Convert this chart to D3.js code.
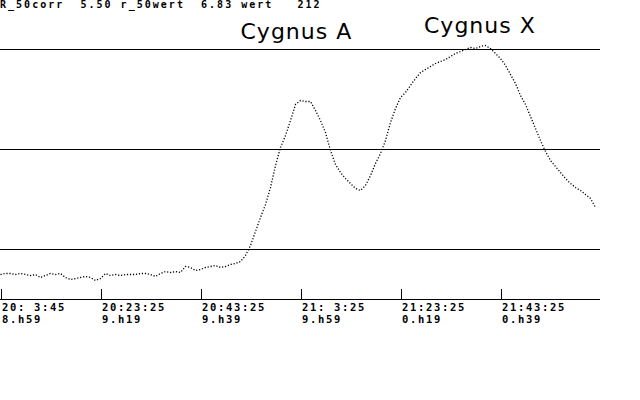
<!DOCTYPE html>
<html><head><meta charset="utf-8">
<script src="https://cdn.jsdelivr.net/npm/d3@7"></script>
<style>
html,body{margin:0;padding:0;background:#fff;}
svg{display:block;}
</style></head>
<body>
<svg id="chart" width="640" height="400"></svg>
<script>
// ---- data ----
const headerText = "R_50corr  5.50 r_50wert  6.83 wert   212";
const sourceNames = ["Cygnus A", "Cygnus X"];
const sourceMinutes = [48, 84.7];          // label anchor positions (minutes)
const sourceLevels = [261, 267];           // label baseline level (data units)
const tickMinutes = [0, 20, 40, 60, 80, 100];
const tickTimes = ["20: 3:45", "20:23:25", "20:43:25", "21: 3:25", "21:23:25", "21:43:25"];
const tickSidereal = ["8.h59", "9.h19", "9.h39", "9.h59", "0.h19", "0.h39"];
const gridLevels = [50, 150, 250];
const sampleStep = 1; // minutes between samples
const signal = [
 25,26,26,25,26,25,24,25,22,24,
 26,25,26,22,20,21,22,23,22,19,
 21,26,24,25,24,25,25,25,26,26,
 25,23,26,28,27,28,27,33,32,29,
 30,32,33,34,32,33,35,36,38,44,
 54,68,82,95,112,134,152,164,179,195,
 199,198,198,189,179,167,149,135,127,121,
 116,111,109,114,124,136,146,159,177,191,
 202,207,214,221,227,230,233,236,238,240,
 243,246,248,250,252,251,253,254,251,246,
 241,234,225,216,204,195,183,171,159,148,
 139,133,127,121,116,112,109,105,101,92
];

// ---- drawing ----
const svg = d3.select("#chart");
const x = d3.scaleLinear().domain([0, 120]).range([0.5, 600.5]);
const y = d3.scaleLinear().domain([0, 250]).range([299.5, 49.5]);

// header
svg.append("text")
  .attr("x", 0).attr("y", 7.5)
  .attr("font-family", "DejaVu Sans Mono").attr("font-weight", "bold")
  .attr("font-size", 10).attr("letter-spacing", 2.02)
  .attr("xml:space", "preserve").style("white-space", "pre")
  .text(headerText);

// grid lines
svg.append("g").selectAll("line").data(gridLevels).join("line")
  .attr("x1", 0).attr("x2", 600)
  .attr("y1", d => y(d)).attr("y2", d => y(d))
  .attr("stroke", "#000").attr("stroke-width", 1)
  .attr("shape-rendering", "crispEdges");

// axis
const axis = d3.axisBottom(x).tickValues(tickMinutes).tickSize(-11).tickSizeOuter(0).tickFormat("");
const ag = svg.append("g").attr("transform", `translate(0,${y(0)})`).call(axis);
ag.select(".domain").attr("stroke", "#000").attr("shape-rendering", "crispEdges")
  .attr("d", `M0,0H600`);
ag.selectAll(".tick line").attr("stroke", "#000").attr("shape-rendering", "crispEdges");

// tick labels (two lines)
const lab = svg.append("g").attr("font-family", "DejaVu Sans Mono").attr("font-weight", "bold")
  .attr("font-size", 10.5).attr("letter-spacing", 1.68);
lab.selectAll("text.t1").data(tickMinutes).join("text").attr("class", "t1")
  .attr("x", d => x(d) + 1.5).attr("y", 311)
  .attr("xml:space", "preserve").style("white-space", "pre")
  .text((d, i) => tickTimes[i]);
lab.selectAll("text.t2").data(tickMinutes).join("text").attr("class", "t2")
  .attr("x", d => x(d) + 1.5).attr("y", 323)
  .text((d, i) => tickSidereal[i]);

// signal trace (dotted)
const line = d3.line()
  .x((d, i) => x(i * sampleStep))
  .y(d => y(d))
  .curve(d3.curveLinear);
svg.append("path").datum(signal)
  .attr("d", line)
  .attr("fill", "none").attr("stroke", "#000")
  .attr("stroke-width", 1.3).attr("stroke-dasharray", "1.2 1.8");

// source labels
svg.append("g").attr("font-family", "DejaVu Sans").attr("font-size", 22).attr("letter-spacing", 1)
  .selectAll("text").data(sourceNames).join("text")
  .attr("x", (d, i) => x(sourceMinutes[i]))
  .attr("y", (d, i) => y(sourceLevels[i]))
  .text(d => d);
</script>
</body></html>
